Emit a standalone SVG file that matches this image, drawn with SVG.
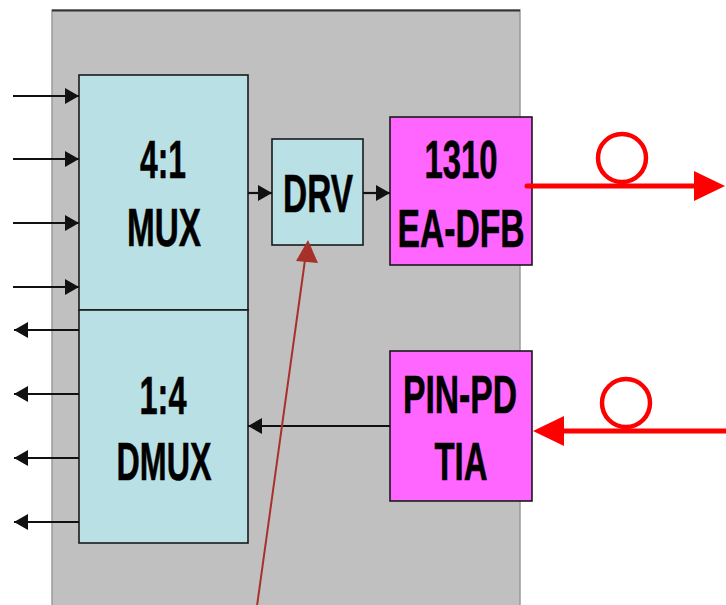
<svg xmlns="http://www.w3.org/2000/svg" width="726" height="605" viewBox="0 0 726 605">
<defs>
<style>
.box{stroke:#1a1a1a;stroke-width:1.6}
.cyan{fill:#b9e1e5}
.pink{fill:#ff66ff}
.lbl{font-family:"Liberation Sans",Arial,sans-serif;font-weight:bold;font-size:53px;fill:#000;stroke:#000;stroke-width:0.6;text-anchor:middle}
.blk{stroke:#111;stroke-width:2.2;fill:none}
.red{stroke:#ff0000;stroke-width:5;fill:none}
.loop{stroke:#ff0000;stroke-width:4.5;fill:none}
</style>
<marker id="ah" viewBox="0 0 14 16" refX="14" refY="8" markerWidth="14" markerHeight="16" orient="auto" markerUnits="userSpaceOnUse">
<path d="M0,0 L14,8 L0,16 Z" fill="#111"/>
</marker>
</defs>
<rect width="726" height="605" fill="#ffffff"/>
<g id="panel">
<rect x="52" y="10" width="468" height="600" fill="#c0c0c0" stroke="#9a9a9a" stroke-width="1.5"/>
<line x1="52" y1="10.5" x2="520" y2="10.5" stroke="#333" stroke-width="2"/>
</g>
<g id="mux">
<rect class="box cyan" x="79" y="75" width="169" height="235"/>
<text class="lbl" x="163" y="178" textLength="46" lengthAdjust="spacingAndGlyphs">4:1</text>
<text class="lbl" x="164" y="246" textLength="74" lengthAdjust="spacingAndGlyphs">MUX</text>
</g>
<g id="dmux">
<rect class="box cyan" x="79" y="310" width="169" height="233"/>
<text class="lbl" x="163" y="414" textLength="47" lengthAdjust="spacingAndGlyphs">1:4</text>
<text class="lbl" x="164" y="480" textLength="95" lengthAdjust="spacingAndGlyphs">DMUX</text>
</g>
<g id="drv">
<rect class="box cyan" x="272" y="139" width="91" height="106"/>
<text class="lbl" x="318" y="212" textLength="70" lengthAdjust="spacingAndGlyphs">DRV</text>
</g>
<g id="eadfb">
<rect class="box pink" x="390" y="117" width="142" height="148"/>
<text class="lbl" x="461" y="178" textLength="73" lengthAdjust="spacingAndGlyphs">1310</text>
<text class="lbl" x="461" y="247" textLength="127" lengthAdjust="spacingAndGlyphs">EA-DFB</text>
</g>
<g id="pinpd">
<rect class="box pink" x="390" y="351" width="142" height="150"/>
<text class="lbl" x="460" y="413" textLength="114" lengthAdjust="spacingAndGlyphs">PIN-PD</text>
<text class="lbl" x="461" y="480" textLength="53" lengthAdjust="spacingAndGlyphs">TIA</text>
</g>
<g id="connectors">
<line class="blk" x1="13" y1="96" x2="79" y2="96" marker-end="url(#ah)"/>
<line class="blk" x1="13" y1="159" x2="79" y2="159" marker-end="url(#ah)"/>
<line class="blk" x1="13" y1="223" x2="79" y2="223" marker-end="url(#ah)"/>
<line class="blk" x1="13" y1="287" x2="79" y2="287" marker-end="url(#ah)"/>
<line class="blk" x1="79" y1="330" x2="14" y2="330" marker-end="url(#ah)"/>
<line class="blk" x1="79" y1="394" x2="14" y2="394" marker-end="url(#ah)"/>
<line class="blk" x1="79" y1="458" x2="14" y2="458" marker-end="url(#ah)"/>
<line class="blk" x1="79" y1="522" x2="14" y2="522" marker-end="url(#ah)"/>
<line class="blk" x1="248" y1="193" x2="272" y2="193" marker-end="url(#ah)"/>
<line class="blk" x1="363" y1="193" x2="390" y2="193" marker-end="url(#ah)"/>
<line class="blk" x1="390" y1="426" x2="248" y2="426" marker-end="url(#ah)"/>
<line x1="257" y1="606" x2="305" y2="260" stroke="#a8302a" stroke-width="2"/>
<path d="M308,240 L318,263 L296,261 Z" fill="#a8302a"/>
<line class="red" x1="527" y1="186" x2="696" y2="186" stroke-linecap="round"/>
<path d="M725,186 L694,171 L694,201 Z" fill="#ff0000"/>
<circle class="loop" cx="622" cy="158" r="24"/>
<line class="red" x1="562" y1="431" x2="726" y2="431"/>
<path d="M533,431 L564,416 L564,446 Z" fill="#ff0000"/>
<circle class="loop" cx="626" cy="403" r="24"/>
</g>
</svg>
